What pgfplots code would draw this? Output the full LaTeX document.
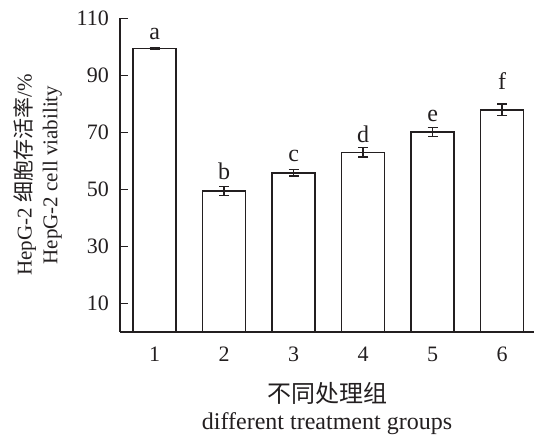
\documentclass[border=0pt]{standalone}
\usepackage{pgfplots}
\pgfplotsset{compat=1.18}
\usepackage{fontspec}
\setmainfont{Liberation Serif}
\newfontfamily\cjk{Noto Sans CJK SC}
\definecolor{ink}{HTML}{231F20}
\begin{document}
\begin{tikzpicture}
\begin{axis}[
  scale only axis, width=207pt, height=156.75pt,
  xmin=0.5, xmax=6.46, ymin=0, ymax=110,
  axis x line=bottom, axis y line=left,
  axis line style={-, line width=0.75pt, draw=ink},
  xtick={1,2,3,4,5,6}, ytick={10,30,50,70,90,110},
  tick align=inside, major tick length=4pt,
  xtick style={draw=none},
  ytick style={line width=0.75pt, draw=ink},
  /pgf/number format/assume math mode=true,
  tick label style={font=\fontsize{11}{13}\selectfont, text=ink},
  yticklabel style={xshift=-2pt},
  xticklabel style={yshift=-4pt},
  clip=false,
]
\addplot[ybar, bar width=21.5pt, fill=white, draw=ink, line width=0.75pt,
  error bars/.cd, y dir=both, y explicit, error mark=|,
  error bar style={line width=0.75pt, draw=ink},
  error mark options={line width=0.75pt, mark size=2.5pt, draw=ink}]
  table[x=x, y=y, y error=e] {
x y e
1 99.4 0.3
2 49.4 1.6
3 55.8 1.2
4 63.0 1.75
5 70.1 1.6
6 77.9 2.0
};
\node[anchor=base, font=\fontsize{12}{14}\selectfont, text=ink] at (axis cs:1,102.4) {a};
\node[anchor=base, font=\fontsize{12}{14}\selectfont, text=ink] at (axis cs:2,53.3) {b};
\node[anchor=base, font=\fontsize{12}{14}\selectfont, text=ink] at (axis cs:3,59.7) {c};
\node[anchor=base, font=\fontsize{12}{14}\selectfont, text=ink] at (axis cs:4,66.4) {d};
\node[anchor=base, font=\fontsize{12}{14}\selectfont, text=ink] at (axis cs:5,73.7) {e};
\node[anchor=base, font=\fontsize{12}{14}\selectfont, text=ink] at (axis cs:6,84.9) {f};
\node[anchor=base, font=\fontsize{12}{14}\selectfont\cjk, text=ink] at (axis description cs:0.5,-0.224) {不同处理组};
\node[anchor=base, font=\fontsize{12}{14}\selectfont, text=ink] at (axis description cs:0.5,-0.313) {different treatment groups};
\node[anchor=base, rotate=90, font=\fontsize{10.5}{12}\selectfont, text=ink] at (axis description cs:-0.2133,0.5) {HepG-2 {\cjk 细胞存活率}/\%};
\node[anchor=base, rotate=90, font=\fontsize{10.5}{12}\selectfont, text=ink] at (axis description cs:-0.1514,0.5) {HepG-2 cell viability};
\end{axis}
\pgfresetboundingbox
\useasboundingbox (-60pt,-53.6pt) rectangle (207pt,165.9pt);
\end{tikzpicture}
\end{document}
